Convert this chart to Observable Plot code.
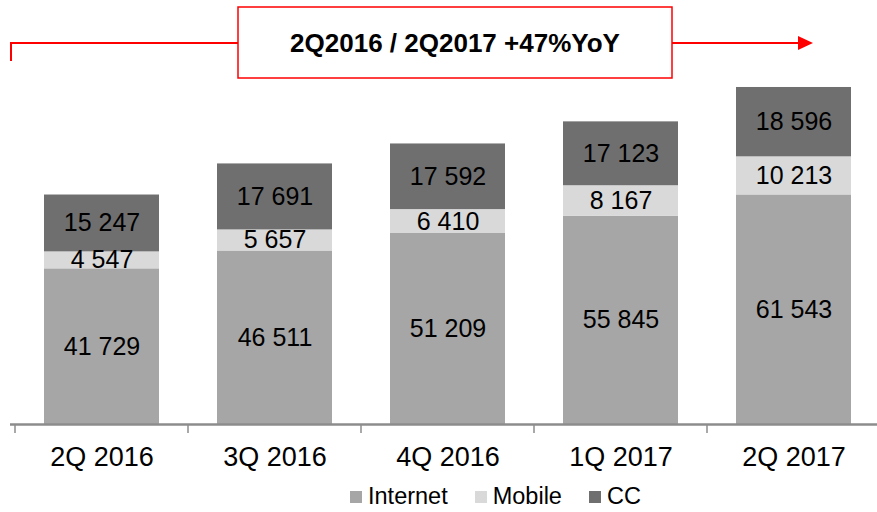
<!DOCTYPE html>
<html>
<head>
<meta charset="utf-8">
<script src="https://cdn.jsdelivr.net/npm/d3@7"></script>
<script src="https://cdn.jsdelivr.net/npm/@observablehq/plot@0.6"></script>
<style>
  html, body { margin: 0; padding: 0; background: #fff; overflow: hidden; }
  #chart { position: relative; width: 877px; height: 512px; font-family: "Liberation Sans", Arial, sans-serif; }
  #legend { position: absolute; left: 350px; top: 483px; display: flex; align-items: center; font-size: 23.5px; color: #000; }
  #legend .item { display: flex; align-items: center; margin-right: 27px; }
  #legend .sw { width: 12px; height: 12px; margin-right: 6px; }
</style>
</head>
<body>
<div id="chart"></div>
<script>
const categories = ["2Q 2016", "3Q 2016", "4Q 2016", "1Q 2017", "2Q 2017"];
const series = ["Internet", "Mobile", "CC"];
const internet = [41729, 46511, 51209, 55845, 61543];
const mobile = [4547, 5657, 6410, 8167, 10213];
const cc = [15247, 17691, 17592, 17123, 18596];
const colors = ["#a6a6a6", "#d9d9d9", "#6f6f6f"];
const headline = "2Q2016 / 2Q2017 +47%YoY";

const values = {Internet: internet, Mobile: mobile, CC: cc};
const data = categories.flatMap((q, i) => series.map(s => ({quarter: q, series: s, value: values[s][i]})));
const fmt = d3.formatLocale({thousands: " ", grouping: [3], decimal: ","}).format(",");

const plot = Plot.plot({
  width: 877,
  height: 480,
  marginTop: 51,
  marginBottom: 56,
  marginLeft: 10,
  marginRight: 0,
  style: {fontFamily: "Liberation Sans, Arial, sans-serif", fontSize: "24px", color: "#000", background: "white", overflow: "visible"},
  x: {domain: categories, range: [13, 882], paddingInner: 0.338, paddingOuter: 0.169, label: null, tickSize: 0, tickPadding: 22},
  y: {domain: [0, 100000], axis: null},
  color: {domain: series, range: colors},
  marks: [
    Plot.barY(data, {x: "quarter", y: "value", fill: "series"}),
    Plot.text(data, Plot.stackY({x: "quarter", y: "value", z: "series", text: d => fmt(d.value), fontSize: 25, fill: "#000"})),
    Plot.ruleY([0], {stroke: "#8c8c8c", strokeWidth: 2.5}),
    Plot.axisX({tickSize: 0, tickPadding: 22, fontSize: 27, label: null, fill: "#000"})
  ]
});
document.getElementById("chart").appendChild(plot);

const svg = d3.select(plot);
const xs = plot.scale("x");
const gap = (xs.step - xs.bandwidth) / 2;
const y0 = plot.scale("y").apply(0);
const tg = svg.append("g").attr("stroke", "#8c8c8c").attr("stroke-width", 1.5);
categories.forEach(c => {
  const bx = xs.apply(c) - gap;
  tg.append("line").attr("x1", bx).attr("x2", bx).attr("y1", y0).attr("y2", y0 + 9);
});

// headline annotation
const ann = svg.append("g");
ann.append("path").attr("d", "M11,61 V43 H238").attr("fill", "none").attr("stroke", "#ff0000").attr("stroke-width", 2);
ann.append("path").attr("d", "M672,43 H800").attr("fill", "none").attr("stroke", "#ff0000").attr("stroke-width", 2);
ann.append("path").attr("d", "M798,36 L813,43 L798,50 Z").attr("fill", "#ff0000");
ann.append("rect").attr("x", 238).attr("y", 7).attr("width", 434).attr("height", 71)
  .attr("fill", "#fff").attr("stroke", "#ff0000").attr("stroke-width", 1.5);
ann.append("text").attr("x", 455).attr("y", 43).attr("dy", "0.35em").attr("text-anchor", "middle")
  .attr("font-size", 26).attr("font-weight", "bold").attr("fill", "#000").text(headline);

// legend
const legend = d3.select("#chart").append("div").attr("id", "legend");
series.forEach((s, i) => {
  const it = legend.append("div").attr("class", "item");
  it.append("div").attr("class", "sw").style("background", colors[i]);
  it.append("span").text(s);
});
</script>
</body>
</html>
